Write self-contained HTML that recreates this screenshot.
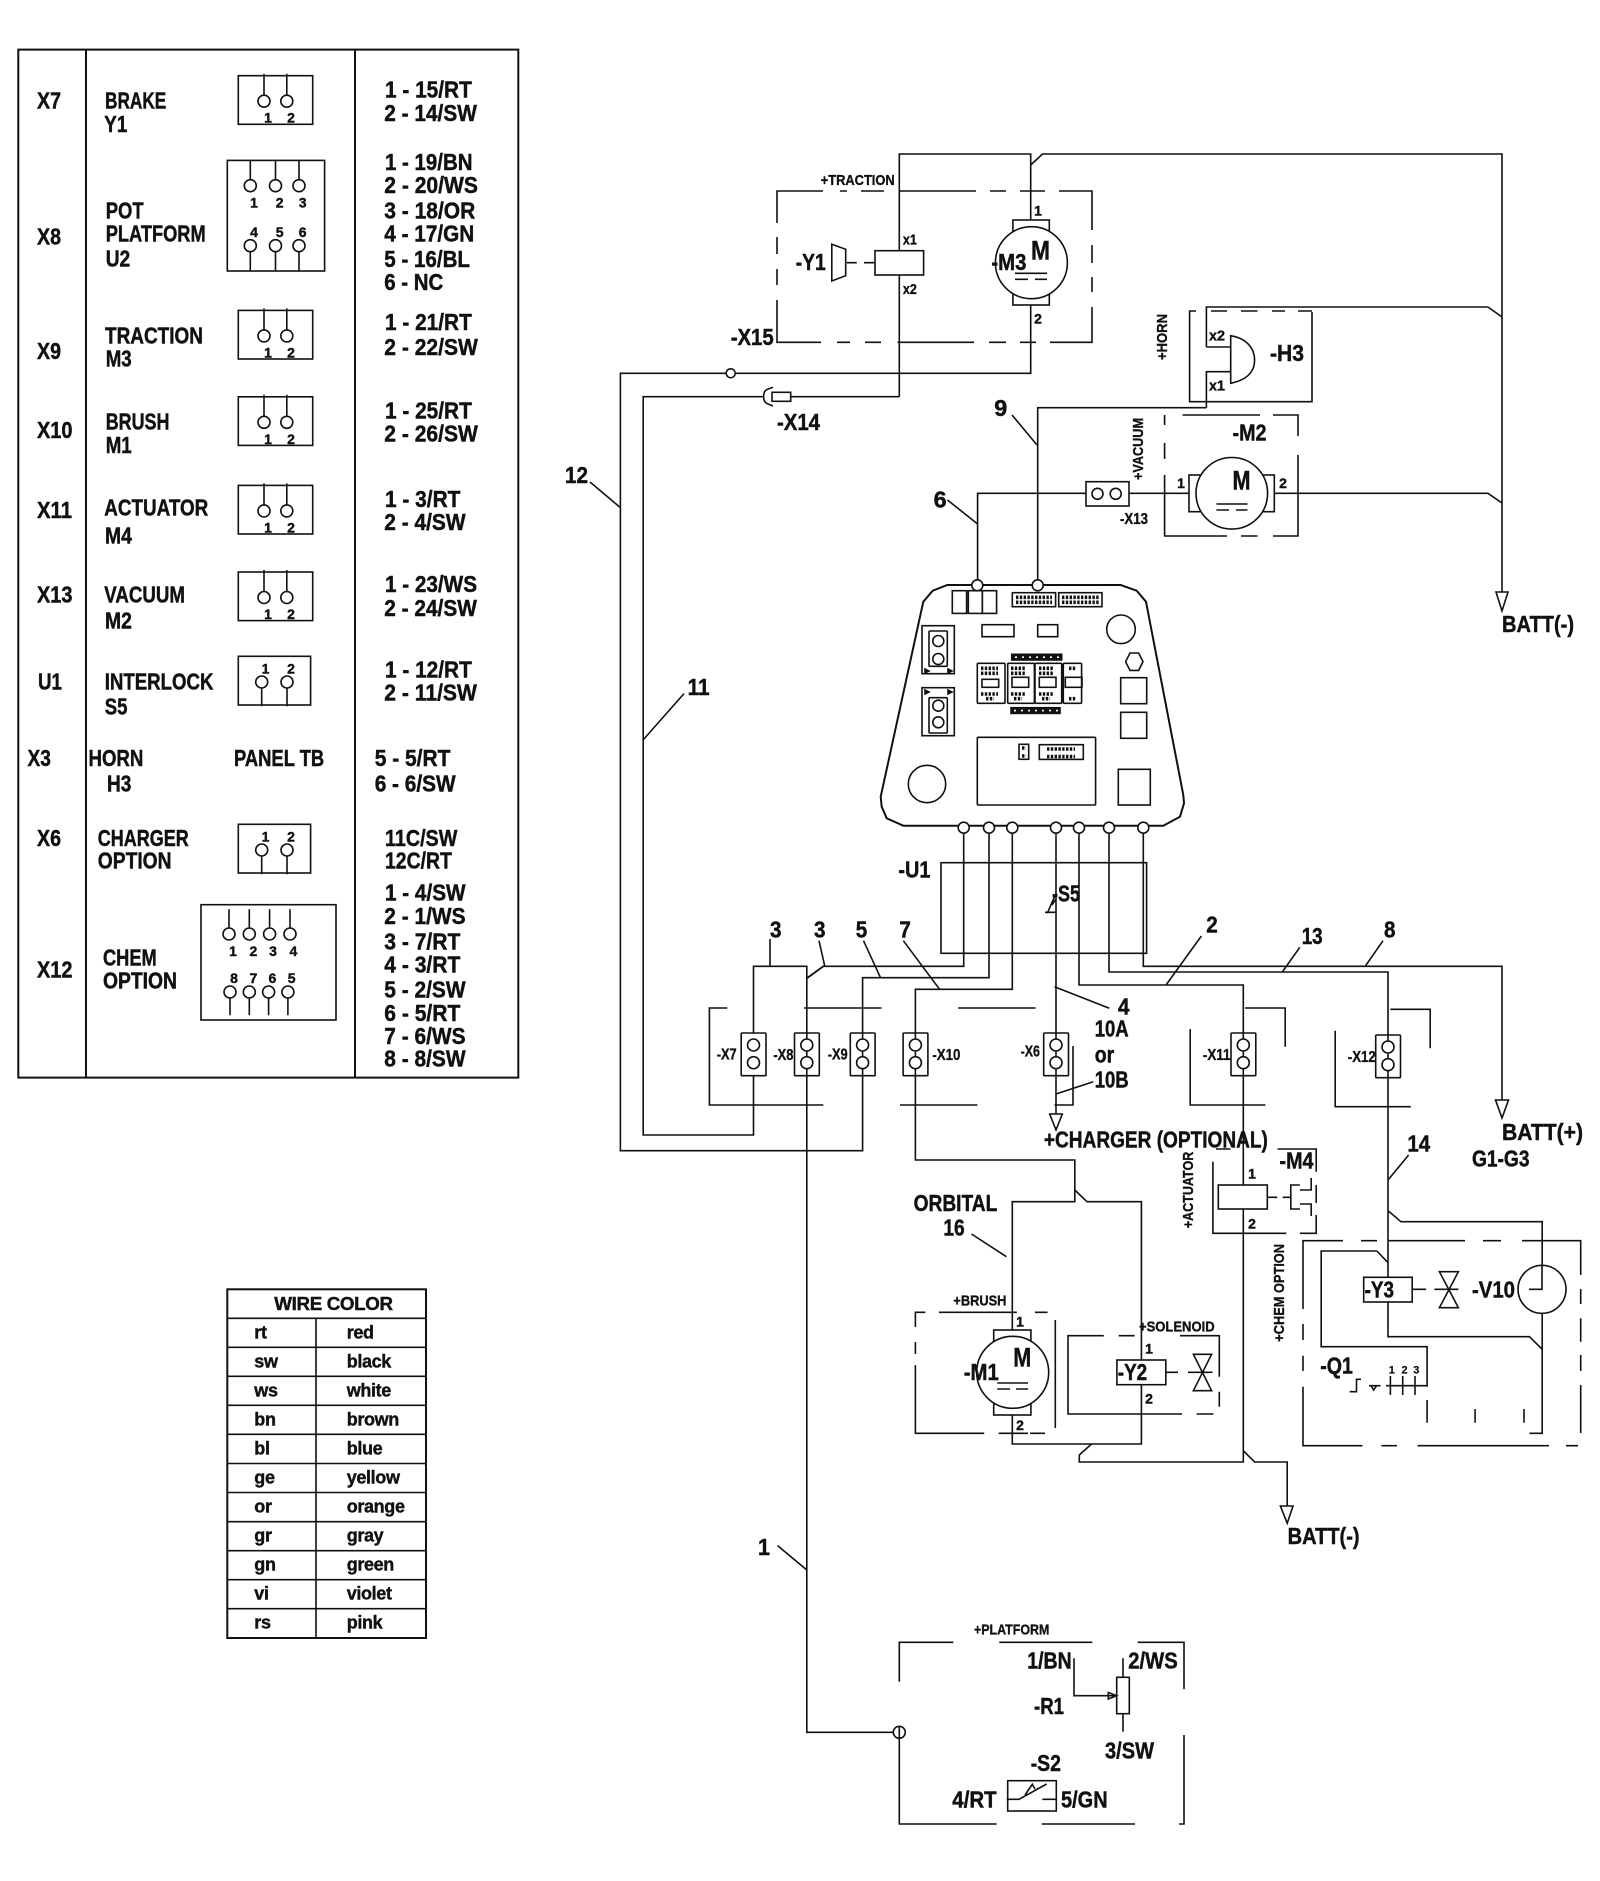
<!DOCTYPE html>
<html><head><meta charset="utf-8"><style>
html,body{margin:0;padding:0;background:#fff}
svg{display:block}
text{font-family:"Liberation Sans",sans-serif;font-weight:bold;fill:#111;font-size:23px;stroke:#111;stroke-width:.45}
.s{font-size:15px;stroke-width:.35}.n{font-size:14px;text-anchor:middle;stroke-width:.4}.x{font-size:16px;stroke-width:.35}.t{font-size:18px;letter-spacing:-.35px;stroke-width:.4}.m{font-size:27px}.k{font-size:11px;text-anchor:middle;stroke-width:.2}
path,rect,circle,polygon,polyline,line{fill:none;stroke:#111;stroke-width:1.6}
.w{fill:#fff}
.th{stroke-width:2}
.dot{stroke-width:3.6;stroke-dasharray:2.4 1.4}
.b{fill:#111}
</style></head><body>
<svg width="1600" height="1881" viewBox="0 0 1600 1881" xmlns="http://www.w3.org/2000/svg">
<defs>
<g id="k"><rect x="-12.3" y="0" width="24.8" height="42.7" rx="1"/><circle class="w" cy="12" r="6"/><circle class="w" cy="29.7" r="6"/></g>
<g id="t2"><rect x="238.3" y="0" width="74.4" height="48.6"/><path d="M264 -2V20M286.8 -2V20"/><circle class="w" cx="264" cy="25.5" r="6"/><circle class="w" cx="286.8" cy="25.5" r="6"/><text class="n" x="268" y="47">1</text><text class="n" x="291" y="47">2</text></g>
<g id="t3"><rect x="238.3" y="0" width="72.3" height="48.7"/><path d="M261.7 31V50M287 31V50"/><circle class="w" cx="261.7" cy="25.7" r="6"/><circle class="w" cx="287" cy="25.7" r="6"/><text class="n" x="265.5" y="17">1</text><text class="n" x="291" y="17">2</text></g>
</defs>

<!-- LEFT TABLE -->
<rect class="th" x="18.3" y="49.6" width="500" height="1028"/>
<path class="th" d="M86 49.6V1077.6M355 49.6V1077.6"/>
<use href="#t2" y="75.7"/>
<rect x="227.3" y="160.4" width="97.3" height="110.6"/>
<path d="M250.3 160.4V180M275.5 160.4V180M299 160.4V180M250.3 251V271M275.5 251V271M299 251V271"/>
<circle class="w" cx="250.3" cy="185.7" r="6"/><circle class="w" cx="275.5" cy="185.7" r="6"/><circle class="w" cx="299" cy="185.7" r="6"/>
<circle class="w" cx="250.3" cy="245.7" r="6"/><circle class="w" cx="275.5" cy="245.7" r="6"/><circle class="w" cx="299" cy="245.7" r="6"/>
<text class="n" x="254" y="207.5">1</text><text class="n" x="279.6" y="207.5">2</text><text class="n" x="302.7" y="207.5">3</text>
<text class="n" x="254" y="237">4</text><text class="n" x="279.6" y="237">5</text><text class="n" x="302.7" y="237">6</text>
<use href="#t2" y="310.4"/><use href="#t2" y="396.8"/><use href="#t2" y="485.4"/><use href="#t2" y="572"/>
<use href="#t3" y="656.3"/><use href="#t3" y="824.3"/>
<rect x="201" y="904.7" width="135" height="115.3"/>
<path d="M229 909.3V928M249.3 909.3V928M269.6 909.3V928M290 909.3V928M230 998V1015.3M249.3 998V1015.3M268.6 998V1015.3M287.9 998V1015.3"/>
<circle class="w" cx="229" cy="934" r="6"/><circle class="w" cx="249.3" cy="934" r="6"/><circle class="w" cx="269.6" cy="934" r="6"/><circle class="w" cx="290" cy="934" r="6"/>
<circle class="w" cx="230" cy="992" r="6"/><circle class="w" cx="249.3" cy="992" r="6"/><circle class="w" cx="268.6" cy="992" r="6"/><circle class="w" cx="287.9" cy="992" r="6"/>
<text class="n" x="233" y="956">1</text><text class="n" x="253.4" y="956">2</text><text class="n" x="273" y="956">3</text><text class="n" x="293.4" y="956">4</text>
<text class="n" x="234" y="983">8</text><text class="n" x="253.4" y="983">7</text><text class="n" x="272.4" y="983">6</text><text class="n" x="291.7" y="983">5</text>

<text x="37" y="108.6" textLength="24" lengthAdjust="spacingAndGlyphs">X7</text>
<text x="105" y="108.6" textLength="61.3" lengthAdjust="spacingAndGlyphs">BRAKE</text>
<text x="104.3" y="132" textLength="23" lengthAdjust="spacingAndGlyphs">Y1</text>
<text x="385" y="97.5" textLength="86.8" lengthAdjust="spacingAndGlyphs">1 - 15/RT</text>
<text x="384.3" y="121" textLength="92.6" lengthAdjust="spacingAndGlyphs">2 - 14/SW</text>
<text x="37" y="244.3" textLength="24" lengthAdjust="spacingAndGlyphs">X8</text>
<text x="105.7" y="218.6" textLength="37.9" lengthAdjust="spacingAndGlyphs">POT</text>
<text x="105.7" y="241.4" textLength="100" lengthAdjust="spacingAndGlyphs">PLATFORM</text>
<text x="105.7" y="266.4" textLength="24.5" lengthAdjust="spacingAndGlyphs">U2</text>
<text x="385" y="170" textLength="87.5" lengthAdjust="spacingAndGlyphs">1 - 19/BN</text>
<text x="384.3" y="192.9" textLength="93.6" lengthAdjust="spacingAndGlyphs">2 - 20/WS</text>
<text x="384.3" y="218.6" textLength="91" lengthAdjust="spacingAndGlyphs">3 - 18/OR</text>
<text x="384.3" y="241.4" textLength="90" lengthAdjust="spacingAndGlyphs">4 - 17/GN</text>
<text x="384.3" y="266.8" textLength="85.7" lengthAdjust="spacingAndGlyphs">5 - 16/BL</text>
<text x="384.3" y="290" textLength="58.9" lengthAdjust="spacingAndGlyphs">6 - NC</text>
<text x="37" y="358.9" textLength="24" lengthAdjust="spacingAndGlyphs">X9</text>
<text x="105" y="343.6" textLength="98" lengthAdjust="spacingAndGlyphs">TRACTION</text>
<text x="105.7" y="366.4" textLength="26" lengthAdjust="spacingAndGlyphs">M3</text>
<text x="385" y="330" textLength="86.8" lengthAdjust="spacingAndGlyphs">1 - 21/RT</text>
<text x="384.3" y="355" textLength="93.6" lengthAdjust="spacingAndGlyphs">2 - 22/SW</text>
<text x="37" y="438.2" textLength="35.5" lengthAdjust="spacingAndGlyphs">X10</text>
<text x="105.7" y="429.6" textLength="63.7" lengthAdjust="spacingAndGlyphs">BRUSH</text>
<text x="105.7" y="452.9" textLength="26" lengthAdjust="spacingAndGlyphs">M1</text>
<text x="385" y="418.6" textLength="86.8" lengthAdjust="spacingAndGlyphs">1 - 25/RT</text>
<text x="384.3" y="441.4" textLength="93.6" lengthAdjust="spacingAndGlyphs">2 - 26/SW</text>
<text x="37" y="518.2" textLength="35" lengthAdjust="spacingAndGlyphs">X11</text>
<text x="104.3" y="515.7" textLength="104" lengthAdjust="spacingAndGlyphs">ACTUATOR</text>
<text x="105" y="543.6" textLength="26.9" lengthAdjust="spacingAndGlyphs">M4</text>
<text x="385" y="507" textLength="75.4" lengthAdjust="spacingAndGlyphs">1 - 3/RT</text>
<text x="384.3" y="530" textLength="81.3" lengthAdjust="spacingAndGlyphs">2 - 4/SW</text>
<text x="37" y="602.7" textLength="35.5" lengthAdjust="spacingAndGlyphs">X13</text>
<text x="104.3" y="602.7" textLength="80.6" lengthAdjust="spacingAndGlyphs">VACUUM</text>
<text x="105" y="628.3" textLength="26.9" lengthAdjust="spacingAndGlyphs">M2</text>
<text x="385" y="592" textLength="92" lengthAdjust="spacingAndGlyphs">1 - 23/WS</text>
<text x="384.3" y="616" textLength="92.6" lengthAdjust="spacingAndGlyphs">2 - 24/SW</text>
<text x="38" y="689.3" textLength="24" lengthAdjust="spacingAndGlyphs">U1</text>
<text x="104.7" y="689.3" textLength="108.8" lengthAdjust="spacingAndGlyphs">INTERLOCK</text>
<text x="104.7" y="714.7" textLength="22.7" lengthAdjust="spacingAndGlyphs">S5</text>
<text x="385" y="677.7" textLength="86.8" lengthAdjust="spacingAndGlyphs">1 - 12/RT</text>
<text x="384.3" y="700.7" textLength="92.6" lengthAdjust="spacingAndGlyphs">2 - 11/SW</text>
<text x="27.5" y="766" textLength="23.4" lengthAdjust="spacingAndGlyphs">X3</text>
<text x="88.5" y="766" textLength="54.8" lengthAdjust="spacingAndGlyphs">HORN</text>
<text x="107" y="791.7" textLength="24.4" lengthAdjust="spacingAndGlyphs">H3</text>
<text x="234" y="766" textLength="90.2" lengthAdjust="spacingAndGlyphs">PANEL TB</text>
<text x="374.7" y="766" textLength="75.8" lengthAdjust="spacingAndGlyphs">5 - 5/RT</text>
<text x="374.7" y="791.7" textLength="81" lengthAdjust="spacingAndGlyphs">6 - 6/SW</text>
<text x="37" y="846" textLength="24" lengthAdjust="spacingAndGlyphs">X6</text>
<text x="97.8" y="846" textLength="90.9" lengthAdjust="spacingAndGlyphs">CHARGER</text>
<text x="97.8" y="868.7" textLength="73.7" lengthAdjust="spacingAndGlyphs">OPTION</text>
<text x="385" y="846" textLength="72.3" lengthAdjust="spacingAndGlyphs">11C/SW</text>
<text x="385" y="868.7" textLength="66.8" lengthAdjust="spacingAndGlyphs">12C/RT</text>
<text x="37" y="977.7" textLength="35.5" lengthAdjust="spacingAndGlyphs">X12</text>
<text x="103" y="965.3" textLength="53.7" lengthAdjust="spacingAndGlyphs">CHEM</text>
<text x="103" y="988.7" textLength="74" lengthAdjust="spacingAndGlyphs">OPTION</text>
<text x="385" y="900.7" textLength="80.6" lengthAdjust="spacingAndGlyphs">1 - 4/SW</text>
<text x="384.3" y="924" textLength="81.3" lengthAdjust="spacingAndGlyphs">2 - 1/WS</text>
<text x="384.3" y="949.3" textLength="76" lengthAdjust="spacingAndGlyphs">3 - 7/RT</text>
<text x="384.3" y="972.7" textLength="76" lengthAdjust="spacingAndGlyphs">4 - 3/RT</text>
<text x="384.3" y="997.7" textLength="81.3" lengthAdjust="spacingAndGlyphs">5 - 2/SW</text>
<text x="384.3" y="1021" textLength="76" lengthAdjust="spacingAndGlyphs">6 - 5/RT</text>
<text x="384.3" y="1044" textLength="81.3" lengthAdjust="spacingAndGlyphs">7 - 6/WS</text>
<text x="384.3" y="1066.7" textLength="81.3" lengthAdjust="spacingAndGlyphs">8 - 8/SW</text>

<!-- WIRE COLOR TABLE -->
<rect class="th" x="227.3" y="1289.3" width="198.7" height="348.7"/>
<path d="M227.3 1318.3H426M227.3 1347.3H426M227.3 1376.3H426M227.3 1405.3H426M227.3 1434.3H426M227.3 1463.5H426M227.3 1492.5H426M227.3 1521.7H426M227.3 1550.7H426M227.3 1579.7H426M227.3 1608.7H426M316 1318.3V1638"/>
<text class="t" x="274.3" y="1310" textLength="118.4" lengthAdjust="spacingAndGlyphs">WIRE COLOR</text>
<text class="t" x="254.3" y="1338.5">rt</text><text class="t" x="346.7" y="1338.5">red</text>
<text class="t" x="254.3" y="1367.5">sw</text><text class="t" x="346.7" y="1367.5">black</text>
<text class="t" x="254.3" y="1396.5">ws</text><text class="t" x="346.7" y="1396.5">white</text>
<text class="t" x="254.3" y="1425.5">bn</text><text class="t" x="346.7" y="1425.5">brown</text>
<text class="t" x="254.3" y="1454.5">bl</text><text class="t" x="346.7" y="1454.5">blue</text>
<text class="t" x="254.3" y="1483.5">ge</text><text class="t" x="346.7" y="1483.5">yellow</text>
<text class="t" x="254.3" y="1512.5">or</text><text class="t" x="346.7" y="1512.5">orange</text>
<text class="t" x="254.3" y="1541.5">gr</text><text class="t" x="346.7" y="1541.5">gray</text>
<text class="t" x="254.3" y="1570.5">gn</text><text class="t" x="346.7" y="1570.5">green</text>
<text class="t" x="254.3" y="1599.5">vi</text><text class="t" x="346.7" y="1599.5">violet</text>
<text class="t" x="254.3" y="1628.5">rs</text><text class="t" x="346.7" y="1628.5">pink</text>

<!-- MAIN WIRES -->
<path d="M899.3 396.7V154H1030.7V373.3H620.4V1150.7H862.6V1033"/>
<path d="M1030.7 165L1042.5 154H1502V592"/>
<path d="M1488 307L1502 317M1206.4 407.7V371.7H1230M1206.4 347V307H1488M1230 347H1206.4"/>
<path d="M1037.7 585V407.7H1206.4"/>
<path d="M977.6 585V493.3H1086M1129 493.3H1189M1274.3 493.3H1488L1502 503"/>
<path d="M899.3 396.7H790.7M763.6 396.7H643.2V1135H753.5V1075"/>
<path d="M753.5 1033V966.3H806.8V1732.3H893.3M806.8 978.3L823.3 966.3H963.7V832"/>
<path d="M989 832V977.7H862.6V1033"/>
<path d="M1012.3 832V989.3H915.4V1160H1074.8V1201.7H1012.3V1330M1074.8 1190L1087 1201.7H1141.4V1444H1012.3V1415M1091.5 1444L1079.3 1455V1462H1243.3V985H1079V832"/>
<path d="M1056 832V1114"/>
<path d="M1109 832V972H1388V1336.7H1529.5L1542.2 1349.3"/>
<path d="M1388 1210.7L1400.9 1221.7H1542.2V1265M1542.2 1313V1433.3H1529.5"/>
<path d="M1143.3 832V966.3H1502V1100"/>
<path d="M1243.3 1450.7L1254.6 1462H1287.2V1506"/>
<path d="M1376.9 1251H1321.2V1346.7H1427.1V1386.7M1427.1 1400V1422.7M1376.9 1251L1388 1262.7"/>

<!-- leaders -->
<path d="M1012 415L1037 445M947.5 500L977.9 524.3M590 482L620.4 507.6M684 693.6L643 740M770 939V966.3M819 940.7L824.8 966.3M863.5 940.7L880.5 977.7M903.3 940.7L939.6 989.3M1201.4 936L1166 985M1299.8 947.3L1282.3 972M1383 940.7L1365.2 966.3M1109.3 1008.3L1054.5 986.7M1093.3 1081.7L1056 1094M1408.6 1155L1388 1180M971.5 1234L1006.4 1256.7M777.6 1545.6L806.4 1569.6M823.3 966.3L806.8 978.3"/>

<!-- TRACTION block -->
<path d="M777 223V191H823M840 191H847M861 191H884M899 191H976M990 191H1006M1020 191H1045M1059 191H1092V230M1092 245V263M1092 277V292M1092 307V342.3H1050M1036 342.3H1020M1006 342.3H989M974 342.3H897.5M881 342.3H865M850 342.3H837M821 342.3H777V300M777 285V269M777 254V237"/>
<rect class="w" x="875" y="250.7" width="48.6" height="24.3"/>
<path d="M846.8 262.7H856.8M864 262.7H875"/>
<polygon points="831.8,244.3 845.7,249.3 845.7,275.7 831.8,281"/>
<rect class="w" x="1012.9" y="220" width="36.4" height="85"/>
<circle class="w" cx="1031.4" cy="262.7" r="36"/>
<path d="M1015 273.3H1047M1015 279.3H1028M1035 279.3H1047"/>
<circle class="w" cx="730.7" cy="373.3" r="4.5"/>
<rect class="w" x="772" y="392.3" width="18.7" height="9"/>
<path d="M772.9 387.3L767 389.5Q763.6 391 763.6 396.7Q763.6 402 767 403.5L772.9 406"/>
<text class="m" x="1031" y="259.3" textLength="19" lengthAdjust="spacingAndGlyphs">M</text>
<text x="991.4" y="270" textLength="35" lengthAdjust="spacingAndGlyphs">-M3</text>
<text x="795.7" y="270" textLength="30" lengthAdjust="spacingAndGlyphs">-Y1</text>
<text class="s" x="902.9" y="244.3" textLength="14" lengthAdjust="spacingAndGlyphs">x1</text>
<text class="s" x="902.9" y="294" textLength="14" lengthAdjust="spacingAndGlyphs">x2</text>
<text class="n" x="1038" y="215.3">1</text><text class="n" x="1038" y="323.3">2</text>
<text x="730.7" y="345" textLength="43" lengthAdjust="spacingAndGlyphs">-X15</text>
<text x="777" y="430" textLength="43" lengthAdjust="spacingAndGlyphs">-X14</text>
<text class="s" x="820.7" y="185" textLength="74" lengthAdjust="spacingAndGlyphs">+TRACTION</text>

<!-- HORN -->
<path d="M1196 311H1189.6V401.7H1312V312M1211 311H1227M1241 311H1257.5M1272 311H1285M1298 311H1312"/>
<path class="w" d="M1230.7 335.7C1246 338 1254.6 348 1254.6 360C1254.6 373 1246 380 1230.7 383.3Z"/>
<text class="s" x="1209" y="340.7" textLength="16" lengthAdjust="spacingAndGlyphs">x2</text>
<text class="s" x="1209" y="390.7" textLength="16" lengthAdjust="spacingAndGlyphs">x1</text>
<text x="1270" y="361" textLength="34" lengthAdjust="spacingAndGlyphs">-H3</text>
<text class="s" transform="translate(1167 360) rotate(-90)" textLength="46" lengthAdjust="spacingAndGlyphs">+HORN</text>

<!-- VACUUM -->
<rect class="w" x="1086" y="481.7" width="43" height="24.3"/>
<circle class="w" cx="1097.5" cy="493.8" r="5.5"/><circle class="w" cx="1115.7" cy="493.8" r="5.5"/>
<path d="M1164.6 425V415M1182.5 415H1260M1273 415H1298V436M1298 455V536H1273M1257.5 536H1241M1227 536H1164.6V475M1164.6 459V443"/>
<rect class="w" x="1189" y="475" width="85.3" height="36.7"/>
<circle class="w" cx="1231.8" cy="493.3" r="35.8"/>
<path d="M1216.4 504H1247.5M1216.4 510H1229M1236 510H1247.5"/>
<text class="m" x="1232.5" y="489.3" textLength="18" lengthAdjust="spacingAndGlyphs">M</text>
<text x="1232.5" y="440.7" textLength="34" lengthAdjust="spacingAndGlyphs">-M2</text>
<text class="n" x="1181" y="488">1</text><text class="n" x="1283" y="488">2</text>
<text class="x" x="1120" y="524" textLength="28" lengthAdjust="spacingAndGlyphs">-X13</text>
<text class="s" transform="translate(1143 480) rotate(-90)" textLength="62" lengthAdjust="spacingAndGlyphs">+VACUUM</text>
<polygon points="1496,592 1508,592 1502,611"/>
<text x="1502" y="632" textLength="72" lengthAdjust="spacingAndGlyphs">BATT(-)</text>

<!-- PCB -->
<path class="w th" d="M947.3 585H1120.7L1136.7 590.7L1146 601.7L1183.3 795L1184 803.3L1180 816.7L1163.3 825.7H903.3L886.7 818.3L881.7 806.7L880.7 796.7L923.3 601.7L932.7 590.7Z"/>
<rect x="952.3" y="590.7" width="14.3" height="22.7"/><rect x="968.3" y="590.7" width="14" height="22.7"/><rect x="982.3" y="590.7" width="14.3" height="22.7"/>
<rect x="1012.3" y="592.7" width="43.3" height="14"/><rect x="1058.7" y="592.7" width="43.3" height="14"/>
<path class="dot" d="M1016 597.3H1052M1016 602.3H1052M1062 597.3H1099M1062 602.3H1099"/>
<rect x="982" y="624.7" width="32" height="12"/><rect x="1037.7" y="624.7" width="20" height="12"/>
<circle cx="1121" cy="629.3" r="14.3"/>
<polygon points="1138.6,653 1143,661.7 1138.6,670.4 1130,670.4 1125.6,661.7 1130,653"/>
<rect x="922" y="625.7" width="32.3" height="48"/><rect x="929" y="631" width="18.3" height="35.3" rx="1"/>
<circle cx="938.3" cy="641" r="5.5"/><circle cx="938.3" cy="659" r="5.5"/>
<rect x="922" y="687.7" width="32.3" height="48"/><rect x="929" y="697.7" width="18.3" height="35.3" rx="1"/>
<circle cx="938.3" cy="705.7" r="5.5"/><circle cx="938.3" cy="722.3" r="5.5"/>
<polygon class="b" points="925,669 925,673 929,671"/><polygon class="b" points="948,669 948,673 952,671"/><polygon class="b" points="925,690 925,694 929,692"/><polygon class="b" points="948,690 948,694 952,692"/>
<rect class="b" x="1011.7" y="654.3" width="50" height="5.7"/><rect class="b" x="1011" y="707.7" width="49" height="5.7"/>
<path style="stroke:#fff;stroke-width:1.6;stroke-dasharray:2 5" d="M1015 657.2H1060M1014 710.6H1059"/>
<rect x="977.3" y="663.3" width="27.7" height="40" rx="1"/><rect x="1007.7" y="663.3" width="26.7" height="40" rx="1"/><rect x="1035" y="663.3" width="26.7" height="40" rx="1"/><rect x="1063.3" y="663.3" width="18.3" height="40" rx="1"/>
<rect x="982" y="679.3" width="16.7" height="8"/><rect x="1012" y="677.3" width="16.7" height="10"/><rect x="1039.3" y="677.3" width="16.7" height="10"/><rect x="1065.3" y="677.3" width="16.7" height="10"/>
<path class="dot" d="M981 668.3H998M981 673.3H998M1011 668.3H1025M1011 673.3H1025M1039 668.3H1053M1039 673.3H1053M1069 668.3H1076M1069 698.7H1076M981 694H998M986 698.7H994M1011 694H1025M1014 698.7H1022M1039 694H1053M1042 698.7H1050"/>
<rect x="977.3" y="737.3" width="118.3" height="67.7" rx="1"/>
<rect x="1019" y="744.3" width="9.7" height="15"/><rect x="1039.3" y="744.7" width="44" height="14.7"/>
<path class="dot" d="M1022 748H1026M1022 756H1026M1047 749H1075M1047 756.5H1075"/>
<rect x="1120.7" y="677.7" width="26" height="26"/><rect x="1120.7" y="712.3" width="26" height="26"/><rect x="1118.3" y="769.3" width="32" height="35.7"/>
<circle cx="927" cy="784" r="18.7"/>
<circle class="w" cx="977.3" cy="585.3" r="5.5"/><circle class="w" cx="1037.7" cy="585.3" r="5.5"/>
<circle class="w" cx="963.7" cy="827.7" r="5.5"/><circle class="w" cx="989" cy="827.7" r="5.5"/><circle class="w" cx="1012.3" cy="827.7" r="5.5"/><circle class="w" cx="1056" cy="827.7" r="5.5"/><circle class="w" cx="1079" cy="827.7" r="5.5"/><circle class="w" cx="1109" cy="827.7" r="5.5"/><circle class="w" cx="1143.3" cy="827.7" r="5.5"/>

<!-- U1 -->
<rect x="941" y="862.7" width="205.6" height="90.6"/>
<text x="898.4" y="877.3" textLength="32" lengthAdjust="spacingAndGlyphs">-U1</text>
<path d="M1056 893.3L1047.3 913.3M1045 912.3H1056M1052 905L1056 899"/>
<text x="1052" y="901.7" textLength="28" lengthAdjust="spacingAndGlyphs">-S5</text>

<!-- Connector dashed frames -->
<path d="M727.3 1008H709.4V1105H823.3M804 1008H881.5M958 1008H1035.6M900 1105H977.4M1054.5 1105H1073V1046M1245 1008H1285.2V1046.7M1190.2 1029V1105H1265.4M1390.4 1009.3H1430.2V1048.3M1335.2 1030.7V1106.7H1410.8"/>
<use href="#k" x="753.5" y="1033"/><use href="#k" x="806.8" y="1033"/><use href="#k" x="862.6" y="1033"/><use href="#k" x="915.4" y="1033"/><use href="#k" x="1056" y="1033"/><use href="#k" x="1243.3" y="1033"/><use href="#k" x="1388" y="1035"/>
<text class="x" x="716.7" y="1059.3" textLength="20" lengthAdjust="spacingAndGlyphs">-X7</text>
<text class="x" x="773.4" y="1060" textLength="20" lengthAdjust="spacingAndGlyphs">-X8</text>
<text class="x" x="827.7" y="1059.3" textLength="20" lengthAdjust="spacingAndGlyphs">-X9</text>
<text class="x" x="932.4" y="1060" textLength="28" lengthAdjust="spacingAndGlyphs">-X10</text>
<text class="x" x="1020.6" y="1056.7" textLength="19.4" lengthAdjust="spacingAndGlyphs">-X6</text>
<text class="x" x="1202.9" y="1060" textLength="27.6" lengthAdjust="spacingAndGlyphs">-X11</text>
<text class="x" x="1347.8" y="1062" textLength="28" lengthAdjust="spacingAndGlyphs">-X12</text>

<!-- wire numbers -->
<text x="994.3" y="416" textLength="13" lengthAdjust="spacingAndGlyphs">9</text>
<text x="933.6" y="507.7" textLength="13" lengthAdjust="spacingAndGlyphs">6</text>
<text x="565" y="483" textLength="23" lengthAdjust="spacingAndGlyphs">12</text>
<text x="687.6" y="695" textLength="22" lengthAdjust="spacingAndGlyphs">11</text>
<text x="770" y="937.3" textLength="11.5" lengthAdjust="spacingAndGlyphs">3</text>
<text x="814" y="937.3" textLength="11.5" lengthAdjust="spacingAndGlyphs">3</text>
<text x="855.8" y="937.3" textLength="11.5" lengthAdjust="spacingAndGlyphs">5</text>
<text x="899.4" y="937.3" textLength="11.5" lengthAdjust="spacingAndGlyphs">7</text>
<text x="1206.2" y="932.7" textLength="11.5" lengthAdjust="spacingAndGlyphs">2</text>
<text x="1301.7" y="944" textLength="21" lengthAdjust="spacingAndGlyphs">13</text>
<text x="1384" y="937.3" textLength="11.5" lengthAdjust="spacingAndGlyphs">8</text>
<text x="1118" y="1014.3" textLength="11.5" lengthAdjust="spacingAndGlyphs">4</text>
<text x="1094.7" y="1036.7" textLength="34" lengthAdjust="spacingAndGlyphs">10A</text>
<text x="1094.7" y="1062.3" textLength="19.5" lengthAdjust="spacingAndGlyphs">or</text>
<text x="1094.7" y="1087.3" textLength="34" lengthAdjust="spacingAndGlyphs">10B</text>
<text x="1407.4" y="1151.7" textLength="22.8" lengthAdjust="spacingAndGlyphs">14</text>
<text x="758" y="1555" textLength="12" lengthAdjust="spacingAndGlyphs">1</text>
<polygon points="1049.7,1114 1062.3,1114 1056,1130"/>
<polygon points="1495.5,1100 1508.5,1100 1502,1118"/>
<text x="1043.9" y="1147.3" textLength="224" lengthAdjust="spacingAndGlyphs">+CHARGER (OPTIONAL)</text>
<text x="1502" y="1140" textLength="81" lengthAdjust="spacingAndGlyphs">BATT(+)</text>
<text x="1472" y="1166.7" textLength="57.5" lengthAdjust="spacingAndGlyphs">G1-G3</text>

<!-- ACTUATOR -->
<path d="M1216 1149H1230.5M1277.5 1149H1316.2V1171.7M1316.2 1185V1203M1316.2 1215V1233.3H1299.9M1286.3 1233.3H1212.9V1161.7"/>
<rect class="w" x="1218.3" y="1185" width="49" height="24"/>
<path d="M1267.3 1197.3H1277.2M1282.7 1197.3H1290.8M1299.9 1185H1290.8V1209H1299.9M1299.9 1190H1311.2V1178M1299.9 1204H1311.2V1216"/>
<text x="1279.5" y="1168.3" textLength="34" lengthAdjust="spacingAndGlyphs">-M4</text>
<text class="n" x="1252" y="1178.3">1</text><text class="n" x="1252" y="1228.3">2</text>
<text class="s" transform="translate(1193 1228.3) rotate(-90)" textLength="76.6" lengthAdjust="spacingAndGlyphs">+ACTUATOR</text>

<!-- BRUSH -->
<text x="913.6" y="1211" textLength="83.7" lengthAdjust="spacingAndGlyphs">ORBITAL</text>
<text x="943.4" y="1235.7" textLength="21.3" lengthAdjust="spacingAndGlyphs">16</text>
<text class="s" x="953.4" y="1305.7" textLength="53" lengthAdjust="spacingAndGlyphs">+BRUSH</text>
<path d="M915.4 1327V1312.3H925.3M939 1312.3H1016.8M1035 1312.3H1047.6M1055.3 1320V1428M1045 1433.3H1030M1028 1433.3H998.7M984.2 1433.3H915.4V1365M915.4 1354V1342"/>
<rect class="w" x="993.7" y="1330" width="37.2" height="85"/>
<circle class="w" cx="1012.7" cy="1372.3" r="36"/>
<path d="M997.3 1383H1028.1M997.3 1389H1010M1016 1389H1028.1"/>
<text class="m" x="1013.2" y="1366.7" textLength="18" lengthAdjust="spacingAndGlyphs">M</text>
<text x="963.8" y="1380" textLength="35" lengthAdjust="spacingAndGlyphs">-M1</text>
<text class="n" x="1020" y="1326.7">1</text><text class="n" x="1020" y="1430">2</text>

<!-- SOLENOID -->
<path d="M1103.8 1335.7H1068V1414H1182M1118.7 1335.7H1134.6M1179.9 1335.7H1219.3V1376.7M1219.3 1391.7V1406.7M1196.6 1414H1213.4"/>
<rect class="w" x="1116.9" y="1360" width="48.9" height="24.7"/>
<path d="M1165.8 1372.3H1178M1188 1372.3H1212.5"/>
<polygon points="1193.4,1354.3 1211.6,1354.3 1193.4,1390.7 1211.6,1390.7"/>
<text x="1117.8" y="1380" textLength="29.4" lengthAdjust="spacingAndGlyphs">-Y2</text>
<text class="n" x="1149" y="1353.3">1</text><text class="n" x="1149" y="1403.3">2</text>
<text class="s" x="1139" y="1331.7" textLength="75.6" lengthAdjust="spacingAndGlyphs">+SOLENOID</text>
<polygon points="1280.4,1506 1293,1506 1287.2,1523.3"/>
<text x="1287.6" y="1544" textLength="72" lengthAdjust="spacingAndGlyphs">BATT(-)</text>

<!-- CHEM -->
<path d="M1303 1309V1240.7H1343M1361 1240.7H1377M1388 1240.7H1465M1483 1240.7H1501M1522 1240.7H1580.7V1275M1580.7 1289V1304M1580.7 1318.3V1341.7M1580.7 1355V1371M1580.7 1385V1433M1578 1445.7H1566M1549 1445.7H1417.6M1397 1445.7H1381.4M1362.4 1445.7H1303V1386.7M1303 1371V1355.7M1303 1340V1324"/>
<rect class="w" x="1363.7" y="1277.3" width="48.5" height="24.7"/>
<path d="M1412.2 1289.3H1426.2M1434.4 1289.3H1458.4"/>
<polygon points="1439.4,1271.7 1458.4,1271.7 1439.4,1307.7 1458.4,1307.7"/>
<circle class="w" cx="1542" cy="1289.3" r="24"/>
<path d="M1542 1265.3V1289.3H1529"/>
<text x="1364.6" y="1297.3" textLength="29.4" lengthAdjust="spacingAndGlyphs">-Y3</text>
<text x="1472" y="1297.3" textLength="43" lengthAdjust="spacingAndGlyphs">-V10</text>
<text x="1320.3" y="1373.3" textLength="32.6" lengthAdjust="spacingAndGlyphs">-Q1</text>
<text class="k" x="1391.8" y="1373.3">1</text><text class="k" x="1404.5" y="1373.3">2</text><text class="k" x="1416.3" y="1373.3">3</text>
<path d="M1349.7 1391.7H1356.5V1379.3H1361M1369 1385.7H1380.5M1371 1385.7L1373.7 1390L1376.5 1385.7M1386 1385.7H1427M1390.4 1376V1395M1402.7 1376V1395M1415 1376V1395M1475.1 1409V1422.7M1524 1409V1422.7"/>
<text class="s" transform="translate(1284 1341.7) rotate(-90)" textLength="97.7" lengthAdjust="spacingAndGlyphs">+CHEM OPTION</text>

<!-- PLATFORM -->
<path d="M899.3 1681.7V1642.3H953.3M999.3 1642.3H1092.3M1137.7 1642.3H1184V1689.3M1184 1735V1824H1179M1135 1824H1041.7M996.7 1824H899.3V1726"/>
<circle cx="899.3" cy="1732.3" r="6"/>
<path d="M1074 1658.3V1695.7H1115M1123 1658.3V1677.3M1123 1713.7V1731.7"/>
<polygon points="1108.3,1692.5 1116.7,1695.7 1108.3,1699"/>
<rect x="1116.7" y="1677.3" width="12.6" height="36.4"/>
<rect x="1007.7" y="1780.7" width="48.6" height="30.3"/>
<path d="M1006.7 1799.3H1019L1046.7 1784M1042.3 1799.3H1056.3M1025 1795L1032.3 1784.3L1035 1789"/>
<text class="s" x="974" y="1634.3" textLength="75.3" lengthAdjust="spacingAndGlyphs">+PLATFORM</text>
<text x="1027.3" y="1668.3" textLength="44.4" lengthAdjust="spacingAndGlyphs">1/BN</text>
<text x="1128.3" y="1668.3" textLength="49.4" lengthAdjust="spacingAndGlyphs">2/WS</text>
<text x="1034" y="1714" textLength="30" lengthAdjust="spacingAndGlyphs">-R1</text>
<text x="1105" y="1758.3" textLength="49" lengthAdjust="spacingAndGlyphs">3/SW</text>
<text x="1030.7" y="1771" textLength="30.3" lengthAdjust="spacingAndGlyphs">-S2</text>
<text x="952.3" y="1807.3" textLength="44.4" lengthAdjust="spacingAndGlyphs">4/RT</text>
<text x="1061" y="1807.3" textLength="46.7" lengthAdjust="spacingAndGlyphs">5/GN</text>
</svg>
</body></html>
